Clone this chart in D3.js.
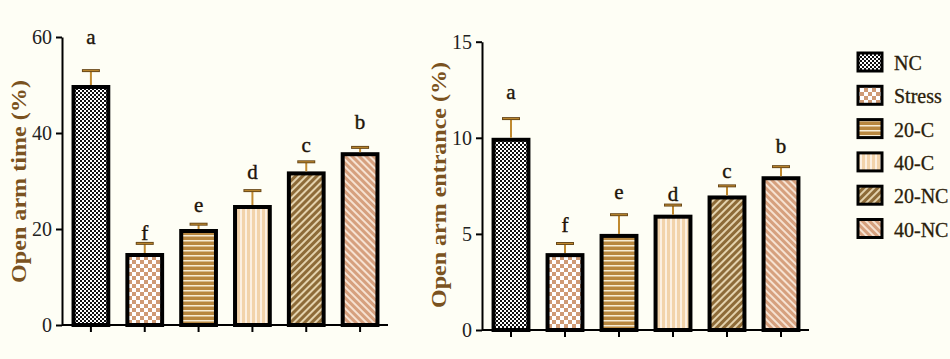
<!DOCTYPE html>
<html><head><meta charset="utf-8">
<script src="https://cdn.jsdelivr.net/npm/d3@7"></script>
<style>
html,body{margin:0;padding:0;background:#fefef5;}
svg{display:block;}
</style></head>
<body>
<svg id="chart" width="950" height="359"></svg>
<script>
// ---- data ----
const groups = ["NC", "Stress", "20-C", "40-C", "20-NC", "40-NC"];
const letters = ["a", "f", "e", "d", "c", "b"];
const timeMean = [50, 15, 20, 25, 32, 36];
const timeErr = [3, 2, 1, 3, 2, 1];
const timeLetterAt = [58.5, 17.7, 23.6, 30.4, 36.1, 40.8];
const timeTicks = [0, 20, 40, 60];
const entranceMean = [10, 4, 5, 6, 7, 8];
const entranceErr = [1, 0.5, 1, 0.5, 0.5, 0.5];
const entranceLetterAt = [12.0, 5.1, 6.8, 6.7, 7.9, 9.2];
const entranceTicks = [0, 5, 10, 15];

const svg = d3.select("#chart");
svg.append("rect").attr("width", 950).attr("height", 359).attr("fill", "#fefef5");
const defs = svg.append("defs");
const FONT = "'Liberation Serif','Times New Roman',serif";

// ---- patterns ----
function pat(id, w, h, draw, transform) {
  const p = defs.append("pattern").attr("id", id).attr("patternUnits", "userSpaceOnUse")
    .attr("width", w).attr("height", h);
  if (transform) p.attr("patternTransform", transform);
  draw(p);
}
pat("p0", 4, 4, p => {
  p.append("rect").attr("width", 4).attr("height", 4).attr("fill", "#ffffff");
  p.append("rect").attr("width", 2).attr("height", 2).attr("fill", "#111");
  p.append("rect").attr("x", 2).attr("y", 2).attr("width", 2).attr("height", 2).attr("fill", "#111");
});
pat("p1", 8, 8, p => {
  p.append("rect").attr("width", 8).attr("height", 8).attr("fill", "#ffffff");
  p.append("rect").attr("width", 4).attr("height", 4).attr("fill", "#cf9a74");
  p.append("rect").attr("x", 4).attr("y", 4).attr("width", 4).attr("height", 4).attr("fill", "#cf9a74");
});
pat("p2", 5, 5, p => {
  p.append("rect").attr("width", 5).attr("height", 5).attr("fill", "#b8873f");
  p.append("rect").attr("width", 5).attr("height", 1.5).attr("fill", "#f7ecd4");
});
pat("p3", 5, 5, p => {
  p.append("rect").attr("width", 5).attr("height", 5).attr("fill", "#f2d3ab");
  p.append("rect").attr("width", 2).attr("height", 5).attr("fill", "#fcf0e2");
});
pat("p4", 5, 5, p => {
  p.append("rect").attr("width", 5).attr("height", 5).attr("fill", "#8d6b38");
  p.append("rect").attr("width", 2).attr("height", 5).attr("fill", "#e3d2ad");
}, "rotate(45)");
pat("p5", 5, 5, p => {
  p.append("rect").attr("width", 5).attr("height", 5).attr("fill", "#d6a07e");
  p.append("rect").attr("width", 2).attr("height", 5).attr("fill", "#f6e2d2");
}, "rotate(-45)");
const fills = groups.map((g, i) => `url(#p${i})`);

// ---- panel ----
function panel(cfg) {
  const x = d3.scaleBand().domain(groups).range([cfg.x0, cfg.x1]).paddingInner(0.28).paddingOuter(0.14);
  const y = d3.scaleLinear().domain(cfg.domain).range([cfg.yBottom, cfg.yTop]);
  const g = svg.append("g");

  // bars
  g.selectAll("rect.bar").data(groups).join("rect").attr("class", "bar")
    .attr("x", d => x(d) + 2).attr("width", x.bandwidth() - 4)
    .attr("y", (d, i) => y(cfg.mean[i]) + 2)
    .attr("height", (d, i) => y(0) - y(cfg.mean[i]) - 2)
    .attr("fill", (d, i) => fills[i]).attr("stroke", "#000").attr("stroke-width", 4);

  // error bars
  groups.forEach((d, i) => {
    const cx = x(d) + x.bandwidth() / 2;
    const top = y(cfg.mean[i] + cfg.err[i]);
    g.append("line").attr("x1", cx).attr("x2", cx).attr("y1", y(cfg.mean[i])).attr("y2", top)
      .attr("stroke", "#c08a30").attr("stroke-width", 2);
    g.append("line").attr("x1", cx - 9).attr("x2", cx + 9).attr("y1", top).attr("y2", top)
      .attr("stroke", "#6b4a1a").attr("stroke-width", 3);
    g.append("line").attr("x1", cx - 8).attr("x2", cx + 8).attr("y1", top).attr("y2", top)
      .attr("stroke", "#c08a30").attr("stroke-width", 1);
    g.append("text").attr("x", cx).attr("y", y(cfg.letterAt[i]))
      .attr("text-anchor", "middle").attr("font-family", FONT)
      .attr("font-size", 21).attr("fill", "#1e1408")
      .attr("stroke", "#1e1408").attr("stroke-width", 0.4).text(letters[i]);
  });

  // y axis
  const ya = d3.axisLeft(y).tickValues(cfg.ticks).tickSize(6).tickSizeOuter(0).tickPadding(4);
  const yg = g.append("g").attr("transform", `translate(${cfg.axisX},0)`).call(ya);
  yg.select(".domain").attr("stroke", "#000").attr("stroke-width", 2);
  yg.selectAll(".tick line").attr("stroke", "#000").attr("stroke-width", 2);
  yg.selectAll(".tick text").attr("font-family", FONT).attr("font-size", 20).attr("fill", "#222");

  // x axis
  const xa = d3.axisBottom(x).tickSize(7).tickSizeOuter(0).tickFormat("");
  const xg = g.append("g").attr("transform", `translate(0,${cfg.yBottom})`).call(xa);
  xg.select(".domain").attr("d", `M${cfg.axisX},0H${cfg.xEnd}`).attr("stroke", "#000").attr("stroke-width", 2);
  xg.selectAll(".tick line").attr("stroke", "#000").attr("stroke-width", 2);

  // title
  g.append("text").attr("transform", `translate(${cfg.titleX},${cfg.titleY}) rotate(-90)`)
    .attr("text-anchor", "middle").attr("font-family", FONT).attr("font-weight", "bold")
    .attr("font-size", 20).attr("fill", "#7a5220")
    .attr("textLength", cfg.titleLen).attr("lengthAdjust", "spacingAndGlyphs")
    .text(cfg.title);
}

panel({
  x0: 64, x1: 387, axisX: 62, xEnd: 388, yBottom: 325, yTop: 37, domain: [0, 60],
  mean: timeMean, err: timeErr, letterAt: timeLetterAt, ticks: timeTicks,
  title: "Open arm time (%)", titleX: 26, titleY: 181.5, titleLen: 203
});
panel({
  x0: 484, x1: 808, axisX: 482, xEnd: 809, yBottom: 330, yTop: 41.7, domain: [0, 15],
  mean: entranceMean, err: entranceErr, letterAt: entranceLetterAt, ticks: entranceTicks,
  title: "Open arm entrance (%)", titleX: 446, titleY: 185, titleLen: 246
});

// ---- legend ----
const lg = svg.append("g");
groups.forEach((d, i) => {
  const yy = 53 + i * 33.3;
  lg.append("rect").attr("x", 858).attr("y", yy).attr("width", 24).attr("height", 18)
    .attr("fill", fills[i]).attr("stroke", "#000").attr("stroke-width", 3);
  lg.append("text").attr("x", 894).attr("y", yy + 17).attr("font-family", FONT)
    .attr("font-size", 20).attr("fill", "#2b1d0a").attr("stroke", "#2b1d0a").attr("stroke-width", 0.3).text(d);
});
</script>
</body></html>
